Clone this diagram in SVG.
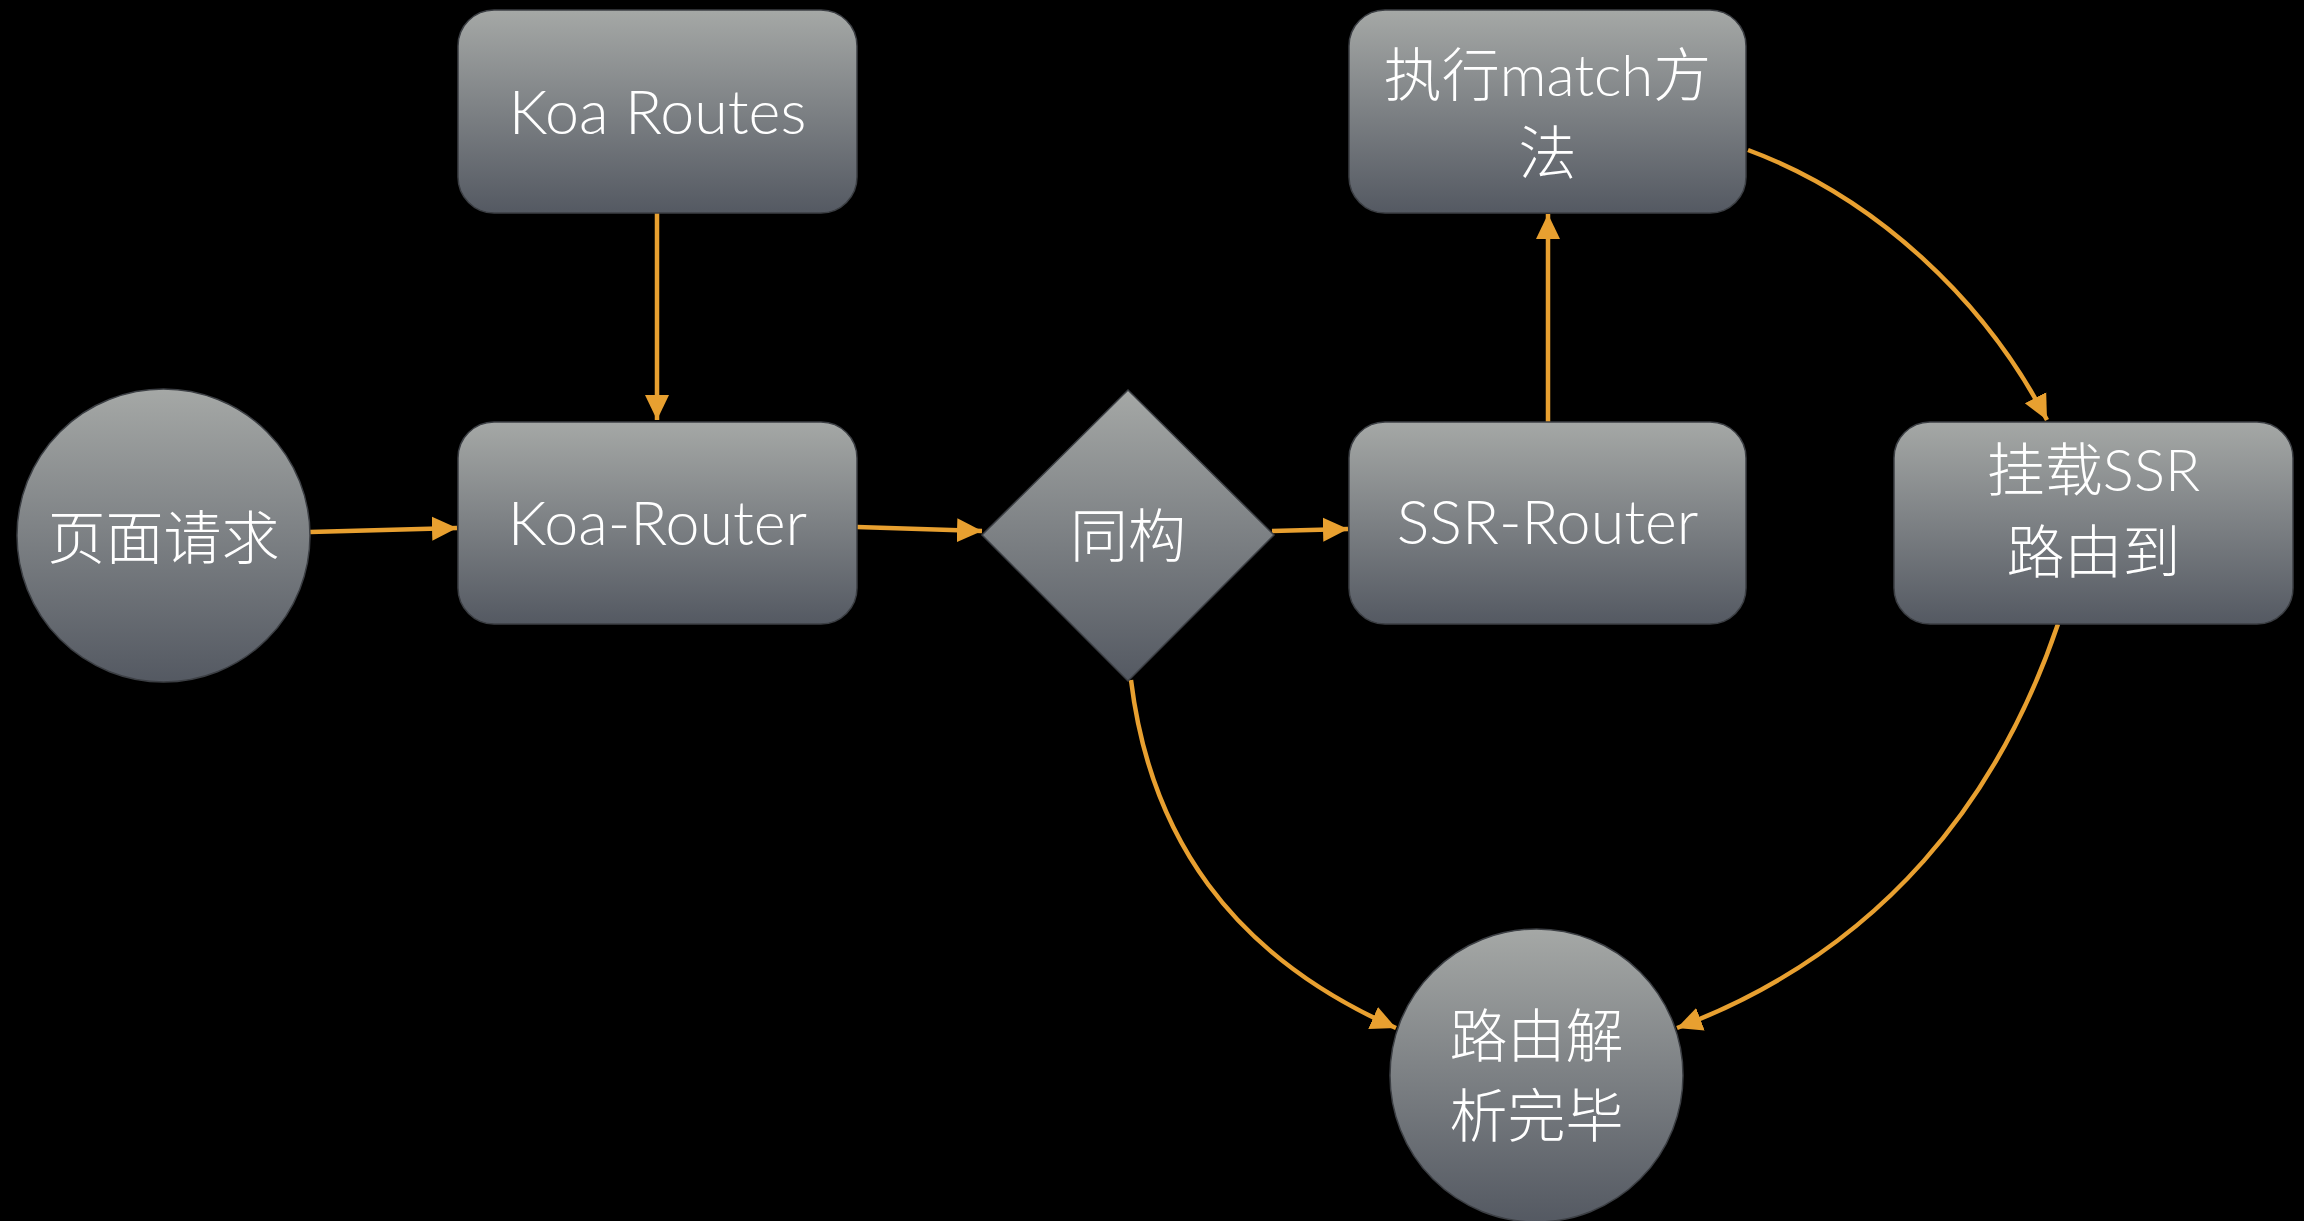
<svg xmlns="http://www.w3.org/2000/svg" width="2304" height="1221" viewBox="0 0 2304 1221">
<style>
.node{fill:url(#g);stroke:#3c3f44;stroke-width:1.5}
.t{fill:#fff;font-family:"Lato","Liberation Sans","Noto Sans CJK SC",sans-serif;font-weight:300;font-size:58px;text-anchor:middle}
.l{font-size:61px}
.c{fill:none;stroke:#e8a030;stroke-width:4.5}
</style>
<defs>
<linearGradient id="g" x1="0" y1="0" x2="0" y2="1">
<stop offset="0" stop-color="#a5a8a6"/>
<stop offset="1" stop-color="#545962"/>
</linearGradient>
<marker id="a" markerUnits="userSpaceOnUse" markerWidth="26" markerHeight="26" viewBox="0 0 26 26" refX="25" refY="13" orient="auto">
<path d="M0,1 L25,13 L0,25 Z" fill="#e8a030"/>
</marker>
</defs>
<rect width="2304" height="1221" fill="#000"/>
<g id="connectors">
<path class="c" d="M310,532 L457,528" marker-end="url(#a)"/>
<path class="c" d="M657,213 L657,420" marker-end="url(#a)"/>
<path class="c" d="M857,527 L982,531" marker-end="url(#a)"/>
<path class="c" d="M1272,531 L1348,529" marker-end="url(#a)"/>
<path class="c" d="M1548,422 L1548,214" marker-end="url(#a)"/>
<path class="c" d="M1748,150 C1875,197 1985,300 2047,420" marker-end="url(#a)"/>
<path class="c" d="M2058,624 C2000,795 1885,950 1677,1028" marker-end="url(#a)"/>
<path class="c" d="M1131,680 C1150,835 1230,955 1396,1028" marker-end="url(#a)"/>
</g>
<g id="koa-routes"><rect class="node" x="458" y="10" width="399" height="203" rx="36"/><text class="t l" x="657.5" y="134">Koa Routes</text></g>
<g id="page-request"><circle class="node" cx="163.5" cy="535.5" r="146.5"/><text class="t" x="163.5" y="559">页面请求</text></g>
<g id="koa-router"><rect class="node" x="458" y="422" width="399" height="202" rx="36"/><text class="t l" x="657.5" y="545">Koa-Router</text></g>
<g id="isomorphic"><path class="node" d="M1128,390 L1274,535 L1128,681 L982,535 Z"/><text class="t" x="1128" y="557">同构</text></g>
<g id="match"><rect class="node" x="1349" y="10" width="397" height="203" rx="36"/><text class="t" x="1547.5" y="96">执行match方</text><text class="t" x="1547.5" y="174">法</text></g>
<g id="ssr-router"><rect class="node" x="1349" y="422" width="397" height="202" rx="36"/><text class="t l" x="1547.5" y="544">SSR-Router</text></g>
<g id="mount-ssr"><rect class="node" x="1894" y="422" width="399" height="202" rx="36"/><text class="t" x="2093.5" y="491">挂载SSR</text><text class="t" x="2093.5" y="573">路由到</text></g>
<g id="route-done"><circle class="node" cx="1536.5" cy="1075.5" r="146.5"/><text class="t" x="1536.5" y="1057">路由解</text><text class="t" x="1536.5" y="1137">析完毕</text></g>
</svg>
